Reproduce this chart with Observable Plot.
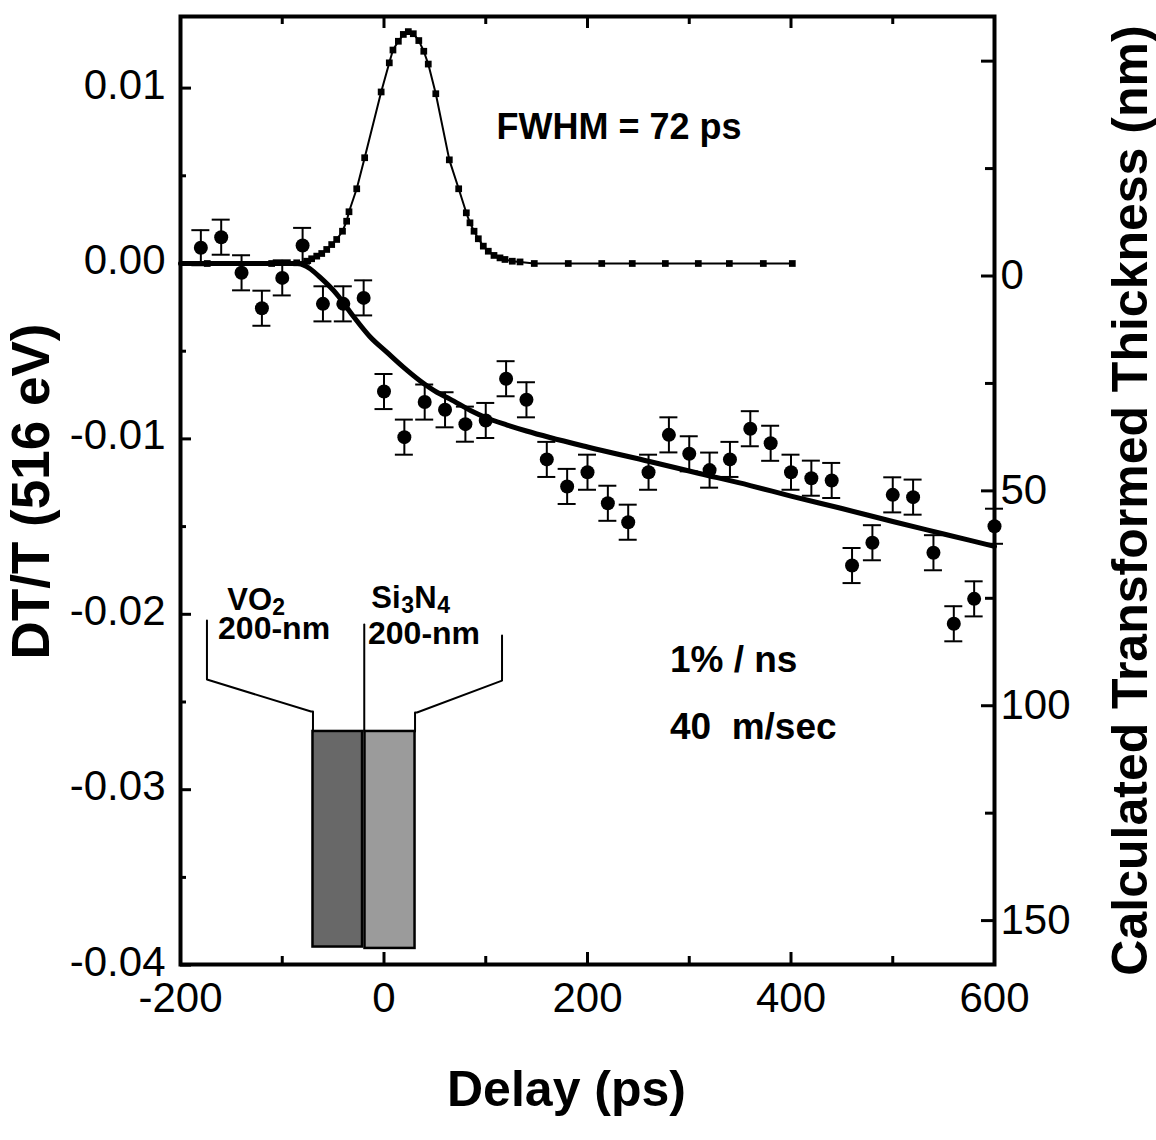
<!DOCTYPE html>
<html><head><meta charset="utf-8">
<script src="https://cdn.jsdelivr.net/npm/d3@7"></script>
<script src="https://cdn.jsdelivr.net/npm/@observablehq/plot@0.6"></script>
<style>
body{margin:0;background:#fff}
#chart{width:1156px;height:1140px}
</style>
</head><body><div id="chart"></div>
<script>
// ---- measured data points (delay in ps, DT/T) ----
const delays = [-180,-160,-140,-120,-100,-80,-60,-40,-20,0,20,40,60,80,100,120,140,160,180,200,220,240,260,280,300,320,340,360,380,400,420,440,460,480,500,520,540,560,580,600];
const dtValues = [0.0009,0.0015,-0.00053,-0.00255,-0.00082,0.00103,-0.0023,-0.0023,-0.00196,-0.0073,-0.0099,-0.0079,-0.00834,-0.00916,-0.00895,-0.00657,-0.00777,-0.01117,-0.01271,-0.0119,-0.01367,-0.01475,-0.0119,-0.00977,-0.01085,-0.01178,-0.01117,-0.00942,-0.01025,-0.0119,-0.01224,-0.01237,-0.01722,-0.01592,-0.01319,-0.01332,-0.01649,-0.02054,-0.01912,-0.01498];
const dtErrors = [0.001,0.001,0.001,0.001,0.001,0.001,0.001,0.001,0.001,0.001,0.001,0.001,0.001,0.001,0.001,0.001,0.001,0.001,0.001,0.001,0.001,0.001,0.001,0.001,0.001,0.001,0.001,0.001,0.001,0.001,0.001,0.001,0.001,0.001,0.001,0.001,0.001,0.001,0.001,0.001];

// ---- fit curve ----
const fitX = [-200,-85,-73,-63,-46.5,-30,-14,3,19,35,52,65,85,101,121,140,163,200,261,310,360,400,450,500,550,600];
const fitY = [0,0,-0.000285,-0.00078,-0.00174,-0.00302,-0.00416,-0.00507,-0.00591,-0.00667,-0.00734,-0.00773,-0.00838,-0.00881,-0.00921,-0.00955,-0.00992,-0.01046,-0.01129,-0.01197,-0.01266,-0.01326,-0.01397,-0.01471,-0.01542,-0.01613];

// ---- pump pulse (FWHM = 72 ps) ----
const pulseX = [-173.7,-110.4,-85.8,-76.0,-71.1,-66.1,-61.2,-56.3,-51.4,-46.5,-40.8,-36.7,-34.4,-26.8,-19.0,-2.8,5.2,8.8,14.1,19.0,23.9,28.8,34.2,39.1,43.5,50.9,64.2,73.4,80.9,84.5,88.5,92.7,97.6,102.5,108.1,114.0,118.9,126.1,133.7,147.7,181.1,214.0,244.0,276.5,308.9,339.4,372.8,401.3];
const pulseY = [0,0,0.00004,0.00013,0.00027,0.00042,0.00057,0.0008,0.00108,0.00137,0.00184,0.00241,0.00295,0.00426,0.00603,0.00978,0.01144,0.01217,0.01267,0.01306,0.01322,0.0131,0.01271,0.0121,0.01137,0.00968,0.00591,0.00426,0.00289,0.00232,0.00184,0.00141,0.00099,0.0007,0.00046,0.00032,0.00023,0.00013,0.00009,0,0,0,0,0,0,0,0,0];

// ---- axes ----
const xLabelTicks = [-200,0,200,400,600];
const xMajorTicks = [0,200,400];
const xMinorTicks = [-100,100,300,500];
const yLabelTicks = [0.01,0,-0.01,-0.02,-0.03,-0.04];
const yMinorTicks = [0.005,-0.005,-0.015,-0.025,-0.035];
const nmLabelTicks = [0,50,100,150];
const nmMajorTicks = [-50,0,50,100,150];
const nmMinorTicks = [-25,25,75,125];
const nmZero = -0.000713, nmSlope = -0.000245; // right-axis (nm) to DT/T
const nmToDT = n => nmZero + nmSlope * n;

// ---- sample sketch (inset) ----
const layerNames = ["VO2","Si3N4"];
const layerX1 = [-69.8,-18.7];
const layerX2 = [-21.1,30.5];
const layerY1 = [-0.02668,-0.02668];
const layerY2 = [-0.03897,-0.03905];
const layerFill = ["#686868","#9b9b9b"];
const bracketId = ["L","L","L","L","L","C","C","R","R","R","R","R"];
const bracketX = [-174.0,-174.0,-71.7,-69.8,-69.8,-19.4,-19.4,116.0,116.0,32.4,30.5,30.5];
const bracketY = [-0.02035,-0.02372,-0.02554,-0.02554,-0.02668,-0.02058,-0.02668,-0.02121,-0.02378,-0.0256,-0.0256,-0.02668];

const points = delays.map((x,i)=>({x, y: dtValues[i], lo: dtValues[i]-dtErrors[i], hi: dtValues[i]+dtErrors[i]}));
const fit = fitX.map((x,i)=>({x, y: fitY[i]}));
const pulse = pulseX.map((x,i)=>({x, y: pulseY[i]}));
const layers = layerNames.map((n,i)=>({n, x1: layerX1[i], x2: layerX2[i], y1: layerY1[i], y2: layerY2[i], fill: layerFill[i]}));
const brackets = bracketX.map((x,i)=>({id: bracketId[i], x, y: bracketY[i]}));

const W = 1156, H = 1140, mL = 180, mR = 162, mT = 16, mB = 176;
const pW = W - mL - mR, pH = H - mT - mB;
const bold = {fontWeight: "bold", fill: "black"};

const chart = Plot.plot({
  width: W, height: H,
  marginLeft: mL, marginRight: mR, marginTop: mT, marginBottom: mB,
  style: {fontFamily: "'Liberation Sans', Arial, Helvetica, sans-serif", fontSize: "42px", color: "black", background: "white"},
  x: {domain: [-200, 600], label: null},
  y: {domain: [-0.039966, 0.014082], label: null},
  marks: [
    // inset sketch
    Plot.rect(layers, {x1: "x1", x2: "x2", y1: "y1", y2: "y2", fill: "fill", stroke: "black", strokeWidth: 2.5}),
    Plot.line(brackets, {x: "x", y: "y", z: "id", stroke: "black", strokeWidth: 2}),
    // pulse
    Plot.line(pulse, {x: "x", y: "y", stroke: "black", strokeWidth: 2}),
    Plot.dot(pulse, {x: "x", y: "y", symbol: "square", r: 3.8, fill: "black"}),
    // fit
    Plot.line(fit, {x: "x", y: "y", stroke: "black", strokeWidth: 5, curve: "monotone-x"}),
    // error bars
    Plot.ruleX(points, {x: "x", y1: "lo", y2: "hi", stroke: "black", strokeWidth: 2}),
    Plot.ruleY(points, {y: "lo", x1: "x", x2: "x", insetLeft: -9, insetRight: -9, stroke: "black", strokeWidth: 2}),
    Plot.ruleY(points, {y: "hi", x1: "x", x2: "x", insetLeft: -9, insetRight: -9, stroke: "black", strokeWidth: 2}),
    Plot.dot(points, {x: "x", y: "y", r: 7, fill: "black"}),
    // frame + inward ticks
    Plot.frame({stroke: "black", strokeWidth: 4}),
    Plot.tickY(yLabelTicks, {y: d => d, insetRight: pW - 11, stroke: "black", strokeWidth: 3}),
    Plot.tickY(yMinorTicks, {y: d => d, insetRight: pW - 6, stroke: "black", strokeWidth: 3}),
    Plot.tickY(nmMajorTicks.map(nmToDT), {y: d => d, insetLeft: pW - 13, stroke: "black", strokeWidth: 3}),
    Plot.tickY(nmMinorTicks.map(nmToDT), {y: d => d, insetLeft: pW - 9, stroke: "black", strokeWidth: 3}),
    Plot.tickX(xMajorTicks, {x: d => d, insetTop: pH - 12, stroke: "black", strokeWidth: 3}),
    Plot.tickX(xMinorTicks, {x: d => d, insetTop: pH - 8, stroke: "black", strokeWidth: 3}),
    Plot.tickX(xMajorTicks, {x: d => d, insetBottom: pH - 12, stroke: "black", strokeWidth: 3}),
    Plot.tickX(xMinorTicks, {x: d => d, insetBottom: pH - 8, stroke: "black", strokeWidth: 3}),
    // tick labels
    Plot.axisY(yLabelTicks, {anchor: "left", tickSize: 0, tickPadding: 15, dy: -3, tickFormat: d => d.toFixed(2), label: null, fontSize: 42}),
    Plot.axisY(nmLabelTicks.map(nmToDT), {anchor: "right", tickSize: 0, tickPadding: 6, tickFormat: d => String(Math.round((d - nmZero) / nmSlope)), label: null, fontSize: 42}),
    Plot.axisX(xLabelTicks, {anchor: "bottom", tickSize: 0, tickPadding: 18, tickFormat: d => String(d), label: null, fontSize: 42}),
    // axis titles
    Plot.text(["Delay (ps)"], {frameAnchor: "bottom", dx: -21, dy: 141, fontSize: 50, ...bold}),
    Plot.text(["DT/T (516 eV)"], {frameAnchor: "left", textAnchor: "middle", dx: -148, dy: 1, rotate: -90, fontSize: 53, ...bold}),
    Plot.text(["Calculated Transformed Thickness (nm)"], {frameAnchor: "right", textAnchor: "middle", dx: 136, dy: 10, rotate: -90, fontSize: 50, ...bold}),
    // annotations
    Plot.text(["FWHM = 72 ps"], {x: 231, y: 0.00775, fontSize: 36, ...bold}),
    Plot.text(["1% / ns"], {x: 281, y: -0.02263, textAnchor: "start", fontSize: 37, ...bold}),
    Plot.text(["40\u00a0 m/sec"], {x: 281, y: -0.02645, textAnchor: "start", fontSize: 37, ...bold}),
    Plot.text(["VO"], {x: -154, y: -0.01921, textAnchor: "start", fontSize: 31, ...bold}),
    Plot.text(["2"], {x: -154, y: -0.01921, dx: 45, dy: 7, textAnchor: "start", fontSize: 23, ...bold}),
    Plot.text(["200-nm"], {x: -163.1, y: -0.02081, textAnchor: "start", fontSize: 32, ...bold}),
    Plot.text(["Si"], {x: -12.5, y: -0.0191, textAnchor: "start", fontSize: 31, ...bold}),
    Plot.text(["3"], {x: -12.5, y: -0.0191, dx: 30, dy: 7, textAnchor: "start", fontSize: 23, ...bold}),
    Plot.text(["N"], {x: -12.5, y: -0.0191, dx: 43, textAnchor: "start", fontSize: 31, ...bold}),
    Plot.text(["4"], {x: -12.5, y: -0.0191, dx: 66, dy: 7, textAnchor: "start", fontSize: 23, ...bold}),
    Plot.text(["200-nm"], {x: -15.7, y: -0.0211, textAnchor: "start", fontSize: 32, ...bold})
  ]
});
document.getElementById("chart").appendChild(chart);
</script>
</body></html>
